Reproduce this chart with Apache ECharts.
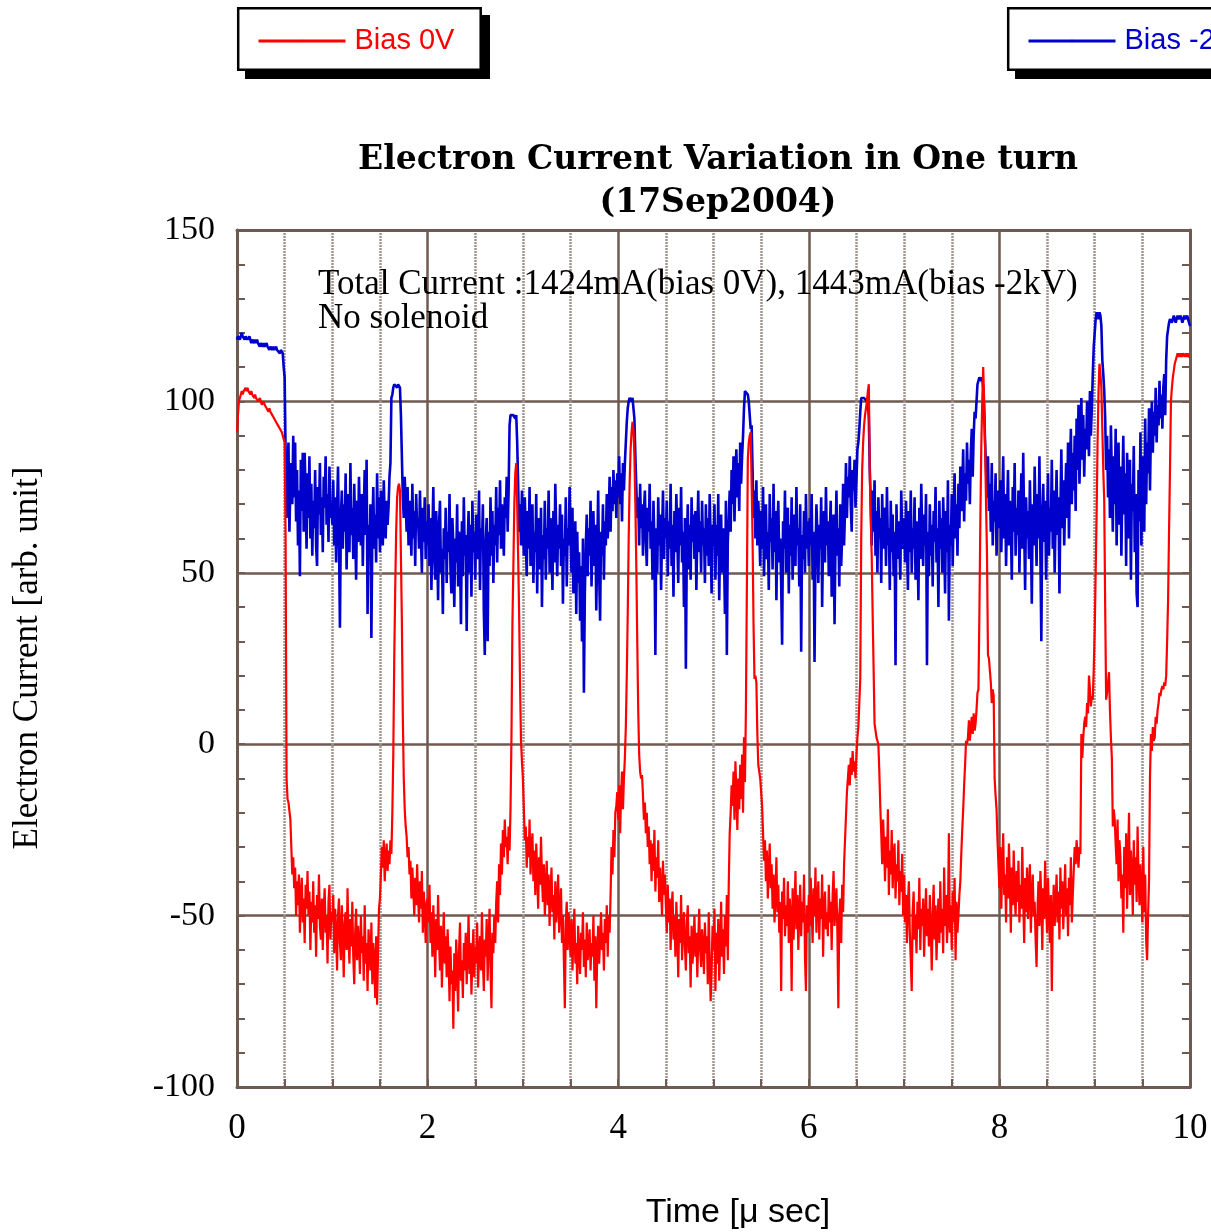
<!DOCTYPE html>
<html>
<head>
<meta charset="utf-8">
<title>Electron Current Variation in One turn</title>
<script src="https://cdn.jsdelivr.net/npm/echarts@6/dist/echarts.min.js"></script>
<style>
  html, body { margin: 0; padding: 0; background: #ffffff; }
  #chart { width: 1211px; height: 1232px; }
</style>
</head>
<body>
<div id="chart"></div>
<script>
// Sampling step of the scope traces, in microseconds
const T_STEP = 0.01;

const X_TICKS = [0, 2, 4, 6, 8, 10];
const Y_TICKS = [-100, -50, 0, 50, 100, 150];
const SERIES_NAMES = ['Bias 0V', 'Bias -2kV'];

// Bias 0V trace, one array per microsecond (100 samples each, last one closes at 10 µs)
const bias0V_0 = [
  91, 96, 100, 101, 102, 103, 102, 103, 103, 104,
  103, 104, 103, 103, 102, 103, 102, 102, 101, 102,
  101, 101, 100, 100, 101, 100, 99, 99, 100, 99,
  99, 98, 98, 97, 98, 97, 97, 96, 96, 95,
  95, 94, 94, 93, 93, 92, 92, 91, 91, 89,
  88, 60, -10, -16, -17, -17, -22, -30, -38, -33,
  -42, -36, -50, -40, -47, -38, -55, -44, -39, -52,
  -45, -58, -41, -48, -37, -50, -43, -60, -46, -52,
  -40, -55, -47, -62, -44, -51, -38, -53, -57, -45,
  -60, -48, -42, -55, -50, -64, -46, -41, -57, -49
];
const bias0V_1 = [
  -52, -44, -61, -48, -55, -66, -50, -45, -58, -63,
  -47, -56, -68, -52, -49, -60, -42, -57, -64, -51,
  -59, -46, -62, -70, -55, -48, -63, -53, -58, -67,
  -50, -61, -56, -69, -47, -64, -58, -72, -54, -60,
  -66, -52, -70, -58, -63, -74, -56, -76, -61, -48,
  -45, -38, -30, -36, -28, -40, -33, -29, -37, -31,
  -35, -28, -32, -20, -3, 25, 45, 62, 72, 75,
  76, 74, 55, 36, 8, -10, -19, -24, -27, -33,
  -30, -38, -34, -45, -36, -42, -50, -39, -47, -35,
  -44, -52, -40, -48, -37, -55, -43, -49, -58, -46
];
const bias0V_2 = [
  -45, -52, -41, -58, -49, -62, -47, -55, -68, -51,
  -60, -44, -57, -66, -53, -71, -58, -49, -64, -56,
  -68, -54, -62, -75, -59, -70, -66, -83, -61, -72,
  -57, -65, -78, -60, -52, -69, -63, -74, -58, -66,
  -55, -70, -61, -50, -67, -58, -73, -62, -54, -68,
  -59, -64, -52, -71, -60, -56, -66, -49, -63, -72,
  -57, -62, -51, -69, -58, -48, -65, -77, -55, -61,
  -50, -58, -46, -40, -52, -35, -44, -29, -38, -25,
  -33, -22, -30, -27, -35, -24, -31, -19, 2, 35,
  52, 70, 79, 82, 70, 55, 39, 18, 1, -5
];
const bias0V_3 = [
  -10, -19, -28, -24, -36, -27, -33, -22, -38, -30,
  -26, -40, -31, -44, -29, -37, -48, -33, -41, -27,
  -39, -46, -35, -50, -42, -34, -47, -38, -53, -43,
  -36, -49, -44, -57, -40, -52, -46, -38, -55, -48,
  -42, -58, -50, -63, -77, -52, -46, -60, -49, -55,
  -62, -51, -66, -56, -48, -64, -58, -70, -53, -61,
  -67, -55, -60, -49, -65, -57, -68, -52, -63, -59,
  -54, -66, -58, -62, -50, -69, -56, -77, -61, -53,
  -64, -57, -49, -60, -55, -66, -51, -58, -47, -62,
  -50, -55, -44, -30, -38, -25, -33, -20, -18, -14
];
const bias0V_4 = [
  -22, -12, -26, -15, -8, -19, -10, -4, 5, 20,
  38, 60, 76, 86, 91, 94, 92, 84, 70, 52,
  30, 10, -3, -8, -10, -9, -15, -22, -17, -26,
  -20, -30, -24, -35, -28, -40, -29, -37, -25, -43,
  -33, -39, -28, -46, -36, -42, -50, -34, -44, -38,
  -47, -55, -41, -52, -45, -60, -48, -43, -57, -50,
  -62, -46, -54, -68, -51, -58, -44, -63, -55, -49,
  -59, -66, -52, -47, -61, -56, -71, -53, -64, -58,
  -50, -62, -55, -68, -57, -48, -60, -65, -54, -59,
  -67, -52, -61, -56, -70, -49, -63, -75, -66, -53
];
const bias0V_5 = [
  -60, -48, -72, -55, -64, -51, -69, -58, -46, -62,
  -54, -67, -50, -59, -44, -63, -41, -26, -20, -12,
  -18, -8, -22, -5, -14, -25, -10, -19, -6, -16,
  -3, -20, 2, -11, 10, 45, 83, 88, 90, 91,
  76, 60, 35, 19, 20, 18, 3, -6, -8, -10,
  -14, -18, -26, -34, -28, -40, -31, -45, -36, -29,
  -42, -35, -48, -38, -52, -44, -33, -49, -41, -55,
  -46, -72, -43, -51, -39, -56, -47, -53, -40, -58,
  -45, -50, -72, -42, -57, -48, -37, -54, -44, -60,
  -49, -41, -56, -46, -52, -38, -62, -72, -47, -55
];
const bias0V_6 = [
  -44, -53, -39, -48, -58, -42, -50, -36, -55, -46,
  -40, -57, -45, -51, -38, -62, -47, -43, -54, -49,
  -56, -41, -52, -46, -60, -44, -37, -53, -48, -42,
  -55, -77, -50, -45, -58, -41, -49, -35, -28, -21,
  -14, -10, -6, -12, -4, -9, -2, -8, -5, -10,
  -3, 2, 5, 12, 19, 60, 80, 88, 93, 96,
  98, 100, 103, 105, 79, 66, 55, 38, 22, 6,
  4, 2, 1, 0, -8, -18, -26, -35, -22, -30,
  -40, -27, -36, -19, -44, -31, -38, -25, -42, -33,
  -29, -45, -35, -40, -28, -47, -37, -43, -32, -50
];
const bias0V_7 = [
  -38, -52, -44, -58, -47, -40, -55, -63, -72, -49,
  -43, -57, -50, -61, -46, -54, -39, -60, -48, -53,
  -45, -62, -51, -42, -56, -48, -59, -44, -53, -66,
  -50, -41, -57, -47, -63, -52, -45, -58, -40, -55,
  -48, -61, -36, -53, -44, -58, -50, -26, -55, -47,
  -60, -43, -52, -39, -63, -46, -55, -50, -44, -40,
  -32, -25, -19, -12, -6, 1, 0, 2, 7, 1,
  5, 8, 3, 9, 4, 6, 10, 15, 16, 38,
  65, 87, 100, 110, 100, 87, 70, 55, 26, 25,
  25, 18, 12, 16, 14, -10, -15, -19, -28, -35
];
const bias0V_8 = [
  -42, -30, -48, -35, -26, -44, -38, -52, -33, -45,
  -29, -40, -55, -36, -47, -31, -43, -50, -37, -46,
  -34, -52, -41, -48, -30, -45, -58, -39, -49, -36,
  -51, -42, -35, -55, -44, -38, -50, -46, -57, -65,
  -48, -40, -53, -37, -45, -60, -42, -51, -34, -47,
  -55, -39, -49, -58, -44, -72, -50, -41, -53, -46,
  -38, -52, -43, -57, -36, -48, -40, -54, -45, -35,
  -50, -42, -56, -39, -47, -33, -52, -44, -37, -30,
  -35, -28, -32, -36, -30, -32, 3, -4, 2, 6,
  8, 5, 12, 9, 20, 16, 11, 14, 13, 22
];
const bias0V_9 = [
  33, 50, 67, 88, 103, 111, 108, 104, 92, 80,
  71, 40, 13, 15, 18, 21, 10, 2, -4, -24,
  -19, -22, -29, -35, -22, -40, -28, -33, -45, -38,
  -55, -30, -42, -26, -48, -34, -20, -44, -31, -37,
  -50, -28, -41, -33, -46, -24, -39, -47, -35, -42,
  -52, -30, -49, -38, -57, -63, -50, -40, -10, 3,
  -2, 5, 1, 2, 8, 6, 10, 12, 15, 14,
  16, 17, 16, 18, 17, 20, 30, 42, 62, 80,
  100, 104, 107, 109, 111, 112, 113, 114, 113, 114,
  113, 114, 113, 114, 114, 113, 114, 113, 114, 113,
  113
];

// Bias -2kV trace, same sampling
const bias2kV_0 = [
  118, 119, 119, 118, 119, 120, 119, 119, 118, 119,
  119, 118, 118, 119, 118, 117, 118, 118, 117, 118,
  117, 118, 117, 117, 116, 117, 117, 116, 117, 116,
  116, 117, 116, 116, 115, 116, 116, 115, 116, 115,
  115, 116, 115, 115, 115, 114, 115, 115, 114, 110,
  107, 85, 66, 78, 88, 62, 75, 82, 70, 90,
  72, 88, 65, 80, 58, 74, 49, 83, 68, 85,
  62, 85, 73, 57, 79, 66, 84, 60, 76, 55,
  71, 63, 80, 58, 52, 75, 67, 82, 61, 72,
  56, 78, 69, 84, 64, 73, 59, 81, 66, 70
];
const bias2kV_1 = [
  64, 77, 58, 72, 53, 68, 81, 60, 34, 66,
  74, 57, 70, 62, 79, 51, 67, 73, 56, 82,
  61, 69, 54, 76, 63, 48, 71, 59, 78, 65,
  58, 73, 52, 68, 80, 61, 83, 38, 64, 55,
  70, 31, 62, 75, 57, 67, 53, 79, 60, 72,
  56, 74, 63, 58, 77, 66, 60, 71, 64, 69,
  78, 82, 101, 102, 104, 105, 105, 105, 104, 105,
  105, 104, 96, 84, 72, 66, 78, 70, 62, 75,
  58, 71, 64, 55, 76, 60, 68, 52, 73, 63,
  66, 57, 74, 61, 50, 69, 59, 72, 54, 65
];
const bias2kV_2 = [
  58, 70, 52, 66, 45, 61, 75, 55, 48, 68,
  60, 42, 64, 71, 50, 57, 38, 63, 54, 69,
  47, 62, 56, 73, 51, 44, 66, 58, 40, 60,
  53, 70, 46, 62, 57, 35, 65, 49, 72, 55,
  61, 33, 58, 68, 50, 64, 43, 71, 56, 62,
  48, 67, 54, 60, 74, 45, 63, 57, 70, 39,
  26, 59, 66, 30, 62, 52, 72, 55, 68, 47,
  64, 58, 75, 53, 69, 61, 77, 57, 70, 63,
  55, 72, 66, 78, 62, 74, 93, 96, 96, 96,
  96, 96, 95, 96, 88, 76, 62, 70, 58, 74
];
const bias2kV_3 = [
  66, 55, 72, 60, 49, 68, 57, 75, 52, 64,
  70, 47, 62, 56, 73, 44, 66, 58, 51, 69,
  40, 61, 54, 71, 48, 63, 57, 74, 50, 66,
  59, 45, 68, 53, 76, 62, 49, 64, 57, 70,
  52, 67, 41, 60, 55, 72, 46, 63, 58, 75,
  61, 50, 69, 44, 57, 65, 38, 62, 47, 56,
  36, 52, 30, 60, 15, 44, 58, 67, 49, 63,
  55, 71, 46, 60, 68, 52, 64, 39, 57, 74,
  50, 36, 62, 55, 70, 48, 65, 58, 73, 60,
  66, 78, 62, 75, 68, 80, 70, 77, 66, 79
];
const bias2kV_4 = [
  72, 84, 70, 79, 65, 82, 74, 82, 88, 94,
  98, 100, 101, 101, 100, 101, 101, 95, 84, 75,
  66, 72, 58, 76, 63, 70, 55, 68, 74, 60,
  52, 69, 62, 76, 57, 65, 48, 71, 59, 26,
  63, 50, 72, 58, 67, 45, 61, 74, 54, 66,
  60, 71, 49, 65, 57, 76, 52, 64, 43, 68,
  56, 73, 61, 47, 69, 58, 75, 53, 62, 40,
  66, 22, 57, 70, 51, 64, 48, 72, 59, 67,
  54, 68, 45, 61, 74, 56, 65, 50, 71, 58,
  63, 47, 70, 55, 66, 52, 73, 60, 44, 64
];
const bias2kV_5 = [
  58, 70, 48, 64, 55, 73, 42, 61, 67, 50,
  63, 56, 38, 71, 26, 59, 66, 74, 62, 80,
  70, 84, 65, 78, 86, 72, 82, 68, 88, 76,
  84, 90, 98, 103, 103, 103, 102, 100, 96, 92,
  93, 80, 66, 74, 60, 77, 58, 71, 63, 52,
  68, 57, 75, 49, 64, 70, 54, 62, 45, 73,
  59, 66, 51, 76, 56, 68, 42, 63, 71, 53,
  60, 47, 29, 65, 57, 74, 50, 62, 69, 44,
  64, 55, 72, 48, 60, 67, 52, 75, 58, 63,
  46, 70, 27, 61, 54, 68, 50, 73, 57, 65
];
const bias2kV_6 = [
  52, 66, 58, 73, 48, 62, 24, 55, 70, 61,
  47, 64, 57, 72, 40, 60, 68, 53, 75, 58,
  65, 49, 62, 71, 43, 57, 67, 35, 59, 74,
  55, 63, 46, 70, 52, 61, 76, 58, 68, 82,
  66, 78, 72, 84, 70, 62, 80, 74, 83, 69,
  77, 86, 88, 92, 97, 101, 101, 101, 101, 101,
  101, 100, 101, 95, 80, 70, 58, 74, 62, 77,
  55, 68, 50, 72, 60, 66, 47, 73, 57, 64,
  69, 52, 75, 58, 63, 45, 71, 56, 67, 49,
  62, 23, 70, 54, 65, 59, 48, 74, 61, 57
];
const bias2kV_7 = [
  66, 53, 71, 59, 45, 68, 56, 74, 50, 63,
  57, 72, 48, 65, 60, 42, 69, 54, 76, 61,
  52, 67, 58, 73, 23, 62, 49, 70, 55, 64,
  46, 68, 59, 75, 53, 63, 40, 71, 57, 66,
  50, 72, 61, 44, 68, 56, 77, 36, 64, 58,
  73, 52, 67, 79, 60, 70, 55, 76, 63, 81,
  68, 74, 86, 65, 79, 71, 88, 76, 83, 70,
  85, 92, 78, 90, 97, 95, 100, 105, 106, 107,
  107, 106, 107, 104, 98, 88, 80, 72, 84, 68,
  76, 62, 82, 58, 71, 65, 79, 55, 69, 74
];
const bias2kV_8 = [
  63, 77, 56, 70, 84, 60, 73, 52, 67, 80,
  58, 71, 64, 48, 75, 62, 82, 55, 69, 61,
  74, 50, 66, 79, 57, 85, 63, 45, 72, 60,
  68, 54, 77, 62, 41, 70, 58, 81, 65, 52,
  73, 60, 84, 56, 30, 67, 76, 59, 71, 48,
  64, 79, 55, 69, 62, 83, 57, 74, 50, 66,
  80, 61, 72, 44, 68, 86, 63, 77, 58, 71,
  82, 66, 88, 60, 78, 92, 70, 85, 74, 90,
  68, 95, 80, 99, 76, 88, 101, 83, 96, 78,
  92, 86, 100, 94, 84, 103, 90, 98, 108, 116
];
const bias2kV_9 = [
  120, 124, 126, 125, 124, 126, 125, 122, 112, 108,
  103, 95, 80, 90, 72, 86, 66, 93, 78, 62,
  84, 70, 92, 58, 77, 88, 64, 81, 55, 74,
  90, 67, 79, 52, 85, 71, 60, 83, 48, 76,
  68, 87, 56, 73, 44, 40, 80, 65, 91, 58,
  77, 84, 62, 95, 70, 88, 79, 98, 74, 92,
  100, 85, 97, 90, 104, 88, 99, 93, 106, 95,
  102, 92, 104, 108, 96, 112, 119, 121, 123, 124,
  124, 123, 124, 125, 124, 123, 124, 125, 124, 124,
  125, 124, 123, 124, 125, 124, 124, 125, 124, 123,
  122
];

// Join the per-microsecond blocks into [time, value] pairs
function toSamples(blocks) {
  const values = [].concat(...blocks);
  return values.map((v, i) => [Number((i * T_STEP).toFixed(2)), v]);
}

const trace0V = toSamples([bias0V_0, bias0V_1, bias0V_2, bias0V_3, bias0V_4,
                           bias0V_5, bias0V_6, bias0V_7, bias0V_8, bias0V_9]);
const trace2kV = toSamples([bias2kV_0, bias2kV_1, bias2kV_2, bias2kV_3, bias2kV_4,
                            bias2kV_5, bias2kV_6, bias2kV_7, bias2kV_8, bias2kV_9]);

const RED = '#ff0000';
const BLUE = '#0000cc';
const BROWN = '#6e5a50';
const DOT_GREY = '#a1958f';
const SERIF = '"Liberation Serif", "Times New Roman", serif';
const SANS = '"Liberation Sans", Arial, sans-serif';

const xMin = X_TICKS[0], xMax = X_TICKS[X_TICKS.length - 1], xStep = X_TICKS[1] - X_TICKS[0];
const yMin = Y_TICKS[0], yMax = Y_TICKS[Y_TICKS.length - 1], yStep = Y_TICKS[1] - Y_TICKS[0];

// Legend entry: short line with a tiny dot, name in the series colour
function legendEntry(name, left, color) {
  return {
    data: [name],
    left: left,
    top: 26,
    z: 10,
    orient: 'horizontal',
    itemWidth: 87,
    itemHeight: 3,
    padding: 0,
    selectedMode: false,
    lineStyle: { width: 3 },
    itemStyle: { color: color },
    textStyle: { color: color, fontFamily: SANS, fontSize: 29, lineHeight: 30, padding: [0, 0, 0, 4] }
  };
}

// Framed box with a solid drop shadow behind each legend entry
function legendFrame(x, width) {
  return [
    { type: 'rect', z: 1, silent: true,
      shape: { x: x + 8, y: 15, width: width, height: 64 },
      style: { fill: '#000000' } },
    { type: 'rect', z: 2, silent: true,
      shape: { x: x + 1.2, y: 8.2, width: width - 2.5, height: 61.5 },
      style: { fill: '#ffffff', stroke: '#000000', lineWidth: 2.5 } }
  ];
}

const chart = echarts.init(document.getElementById('chart'), null, { renderer: 'canvas' });

chart.setOption({
  animation: false,
  backgroundColor: '#ffffff',
  legend: [legendEntry(SERIES_NAMES[0], 257, RED), legendEntry(SERIES_NAMES[1], 1027, BLUE)],
  grid: { left: 237, right: 21, top: 230, bottom: 145, outerBoundsMode: 'none' },
  xAxis: [
    {
      type: 'value', position: 'bottom', min: xMin, max: xMax, interval: xStep,
      axisLine: { show: true, onZero: false, lineStyle: { color: BROWN, width: 3 } },
      axisTick: { show: true, inside: true, length: 8, lineStyle: { color: BROWN, width: 2 } },
      minorTick: { show: true, splitNumber: 4, length: 8, lineStyle: { color: BROWN, width: 2 } },
      splitLine: { show: true, lineStyle: { color: BROWN, width: 2.5 } },
      minorSplitLine: { show: true, lineStyle: { color: DOT_GREY, width: 2.5, type: [2, 1] } },
      axisLabel: { margin: 24, color: '#000', fontFamily: SERIF, fontSize: 35 }
    },
    {
      type: 'value', position: 'top', min: xMin, max: xMax, interval: xStep,
      axisLine: { show: true, onZero: false, lineStyle: { color: BROWN, width: 3 } },
      axisTick: { show: false },
      axisLabel: { show: false },
      splitLine: { show: false }
    }
  ],
  yAxis: [
    {
      type: 'value', position: 'left', min: yMin, max: yMax, interval: yStep,
      axisLine: { show: true, onZero: false, lineStyle: { color: BROWN, width: 3 } },
      axisTick: { show: true, inside: true, length: 8, lineStyle: { color: BROWN, width: 2 } },
      minorTick: { show: true, splitNumber: 5, length: 8, lineStyle: { color: BROWN, width: 2 } },
      splitLine: { show: true, lineStyle: { color: BROWN, width: 2.5 } },
      axisLabel: { margin: 22, color: '#000', fontFamily: SERIF, fontSize: 34 }
    },
    {
      type: 'value', position: 'right', min: yMin, max: yMax, interval: yStep,
      axisLine: { show: true, onZero: false, lineStyle: { color: BROWN, width: 3 } },
      axisTick: { show: true, inside: true, length: 8, lineStyle: { color: BROWN, width: 2 } },
      minorTick: { show: true, splitNumber: 5, length: 8, lineStyle: { color: BROWN, width: 2 } },
      splitLine: { show: false },
      axisLabel: { show: false }
    }
  ],
  series: [
    {
      name: SERIES_NAMES[1], type: 'line', data: trace2kV, symbol: 'none', showSymbol: false,
      lineStyle: { color: BLUE, width: 2.6 }, itemStyle: { color: BLUE }, z: 2
    },
    {
      name: SERIES_NAMES[0], type: 'line', data: trace0V, symbol: 'none', showSymbol: false,
      lineStyle: { color: RED, width: 2.2 }, itemStyle: { color: RED }, z: 3
    }
  ],
  graphic: [
    ...legendFrame(237, 245),
    ...legendFrame(1007, 260),
    {
      type: 'text', x: 718, y: 182, z: 10,
      style: {
        text: 'Electron Current Variation in One turn\n(17Sep2004)',
        font: 'bold 33px "DejaVu Serif"', lineHeight: 43, fill: '#000',
        align: 'center', verticalAlign: 'middle', textAlign: 'center', textVerticalAlign: 'middle'
      }
    },
    {
      type: 'text', x: 318, y: 302, z: 10,
      style: {
        text: 'Total Current :1424mA(bias 0V), 1443mA(bias -2kV)\nNo solenoid',
        font: '35px "Liberation Serif"', lineHeight: 34, fill: '#000',
        align: 'left', verticalAlign: 'middle', textAlign: 'left', textVerticalAlign: 'middle'
      }
    },
    {
      type: 'text', x: 28, y: 658, rotation: Math.PI / 2, z: 10,
      style: {
        text: 'Electron Current [arb. unit]',
        font: '35px "Liberation Serif"', fill: '#000',
        align: 'center', verticalAlign: 'middle', textAlign: 'center', textVerticalAlign: 'middle'
      }
    },
    {
      type: 'text', x: 738, y: 1213, z: 10,
      style: {
        text: 'Time [μ sec]',
        font: '34px "Liberation Sans"', fill: '#000',
        align: 'center', verticalAlign: 'middle', textAlign: 'center', textVerticalAlign: 'middle'
      }
    }
  ]
});
</script>
</body>
</html>
